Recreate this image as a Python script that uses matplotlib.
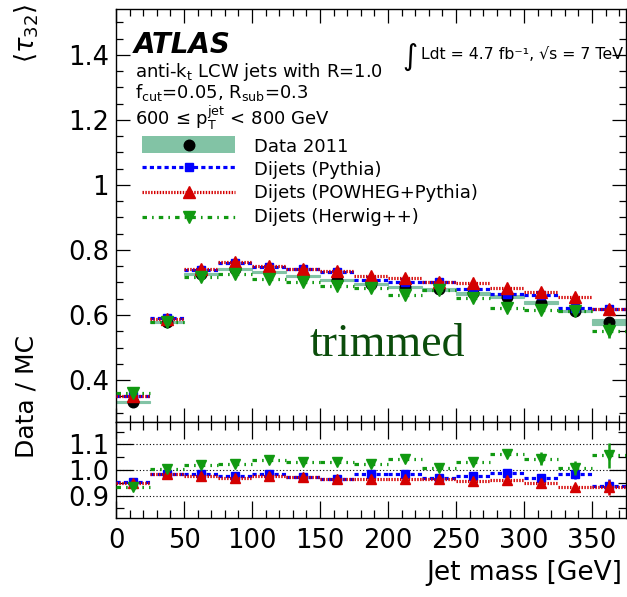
import matplotlib
matplotlib.use("Agg")
import matplotlib.pyplot as plt
from matplotlib.ticker import MultipleLocator, FixedLocator, NullFormatter, FixedFormatter
from matplotlib.patches import Rectangle
import numpy as np

plt.rcParams['font.family'] = ['DejaVu Sans']
plt.rcParams['mathtext.fontset'] = 'dejavusans'

# ---- data: mean tau32 vs jet mass (25 GeV bins) ----
mass_edges = [0, 25, 50, 75, 100, 125, 150, 175, 200, 225, 250, 275, 300, 325, 350, 375]

data_tau32 = [0.333, 0.579, 0.725, 0.741, 0.733, 0.720, 0.708, 0.694, 0.687, 0.679,
              0.667, 0.656, 0.638, 0.612, 0.579]
data_syst = [0.003, 0.003, 0.003, 0.003, 0.003, 0.003, 0.003, 0.003, 0.003, 0.004,
             0.005, 0.004, 0.004, 0.004, 0.009]

pythia_tau32 = [0.352, 0.590, 0.738, 0.760, 0.748, 0.740, 0.731, 0.707, 0.700, 0.701,
                0.681, 0.665, 0.660, 0.621, 0.618]
powheg_tau32 = [0.352, 0.589, 0.743, 0.763, 0.751, 0.742, 0.734, 0.720, 0.713, 0.703,
                0.697, 0.683, 0.671, 0.655, 0.620]
herwig_tau32 = [0.359, 0.577, 0.716, 0.726, 0.710, 0.700, 0.690, 0.683, 0.663, 0.676,
                0.651, 0.622, 0.616, 0.611, 0.552]

pythia_err = [0.002, 0.002, 0.002, 0.002, 0.002, 0.002, 0.002, 0.002, 0.002, 0.002,
              0.003, 0.003, 0.004, 0.006, 0.010]
powheg_err = [0.002, 0.002, 0.002, 0.002, 0.002, 0.002, 0.002, 0.002, 0.002, 0.002,
              0.003, 0.003, 0.004, 0.005, 0.010]
herwig_err = [0.002, 0.002, 0.002, 0.002, 0.002, 0.002, 0.002, 0.002, 0.002, 0.003,
              0.003, 0.004, 0.008, 0.010, 0.022]

# Data / MC ratios
ratio_pythia = [0.953, 0.986, 0.986, 0.976, 0.983, 0.974, 0.966, 0.983, 0.983, 0.970,
                0.976, 0.990, 0.968, 0.985, 0.937]
ratio_powheg = [0.950, 0.985, 0.976, 0.970, 0.975, 0.971, 0.964, 0.964, 0.964, 0.966,
                0.957, 0.960, 0.948, 0.933, 0.932]
ratio_herwig = [0.933, 1.005, 1.018, 1.025, 1.038, 1.033, 1.030, 1.022, 1.042, 1.009,
                1.031, 1.062, 1.045, 1.009, 1.057]

ratio_pythia_err = [0.004, 0.004, 0.004, 0.004, 0.004, 0.004, 0.004, 0.004, 0.004, 0.005,
                    0.006, 0.007, 0.010, 0.020, 0.026]
ratio_powheg_err = [0.004, 0.004, 0.004, 0.004, 0.004, 0.004, 0.004, 0.004, 0.004, 0.005,
                    0.006, 0.007, 0.010, 0.012, 0.030]
ratio_herwig_err = [0.004, 0.004, 0.004, 0.004, 0.004, 0.004, 0.004, 0.004, 0.004, 0.005,
                    0.007, 0.010, 0.025, 0.027, 0.050]

legend_labels = ["Data 2011", "Dijets (Pythia)", "Dijets (POWHEG+Pythia)", "Dijets (Herwig++)"]

edges = np.array(mass_edges, dtype=float)
lo, hi = edges[:-1], edges[1:]
centers = 0.5 * (lo + hi)

BAND = '#82c3a5'
BLUE = '#0000ff'
RED = '#d40000'
GREEN = '#119911'

styles = [
    dict(color=BLUE, marker='s', ms=6.3, ls=(0, (1.3, 1.0)), lw=2.3),
    dict(color=RED, marker='^', ms=8.0, ls=(0, (0.45, 0.45)), lw=2.3),
    dict(color=GREEN, marker='v', ms=8.0, ls=(0, (1.4, 1.6, 0.5, 1.6)), lw=2.3),
]
DATA_MS = 7.6

W, H = 627, 597
fig = plt.figure(figsize=(W / 100, H / 100), dpi=100)
ax = fig.add_axes([116 / W, (H - 422) / H, 510 / W, 413 / H])
axr = fig.add_axes([116 / W, (H - 518) / H, 510 / W, 96 / H])


def draw_series(a, vals, errs, st, z, ms_scale=1.0):
    a.hlines(vals, lo, hi, colors=st['color'], linestyles=[st['ls']], lw=st['lw'], zorder=z)
    a.errorbar(centers, vals, yerr=errs, fmt=st['marker'], color=st['color'],
               ms=st['ms'] * ms_scale, mec=st['color'], elinewidth=1.8, capsize=0,
               zorder=z + 0.5)


# main panel
for x0, x1, v, s in zip(lo, hi, data_tau32, data_syst):
    ax.add_patch(Rectangle((x0, v - s), x1 - x0, 2 * s, facecolor=BAND, edgecolor=BAND,
                           lw=0.8, zorder=1))
ax.plot(centers, data_tau32, 'o', color='black', ms=DATA_MS, zorder=2)
for vals, errs, st, z in zip([pythia_tau32, powheg_tau32, herwig_tau32],
                             [pythia_err, powheg_err, herwig_err], styles, [3, 4, 5]):
    draw_series(ax, vals, errs, st, z)

ax.set_xlim(0, 375)
ax.set_ylim(0.271, 1.541)
ax.yaxis.set_major_locator(FixedLocator([0.4, 0.6, 0.8, 1.0, 1.2, 1.4]))
ax.yaxis.set_major_formatter(FixedFormatter(['0.4', '0.6', '0.8', '1', '1.2', '1.4']))
ax.yaxis.set_minor_locator(MultipleLocator(0.05))
ax.xaxis.set_major_locator(MultipleLocator(50))
ax.xaxis.set_minor_locator(MultipleLocator(10))
ax.xaxis.set_major_formatter(NullFormatter())

# ratio panel
for yv in (0.9, 1.0, 1.1):
    axr.axhline(yv, color='black', ls=(0, (1, 2)), lw=0.8, zorder=0)
for vals, errs, st, z in zip([ratio_pythia, ratio_powheg, ratio_herwig],
                             [ratio_pythia_err, ratio_powheg_err, ratio_herwig_err],
                             styles, [3, 4, 5]):
    draw_series(axr, vals, errs, st, z, ms_scale=0.9)
axr.set_xlim(0, 375)
axr.set_ylim(0.812, 1.188)
axr.yaxis.set_major_locator(FixedLocator([0.9, 1.0, 1.1]))
axr.yaxis.set_major_formatter(FixedFormatter(['0.9', '1.0', '1.1']))
axr.yaxis.set_minor_locator(MultipleLocator(0.05))
axr.xaxis.set_major_locator(MultipleLocator(50))
axr.xaxis.set_minor_locator(MultipleLocator(10))

for a in (ax, axr):
    for sp in a.spines.values():
        sp.set_linewidth(1.0)
    a.tick_params(which='both', direction='in', top=True, right=True, width=0.9,
                  labelsize=18.5, colors='black')
ax.tick_params(which='major', length=10)
ax.tick_params(which='minor', length=5)
ax.tick_params(axis='y', pad=5)
axr.tick_params(which='major', length=12)
axr.tick_params(which='minor', length=6)
axr.tick_params(axis='x', pad=7)
axr.tick_params(axis='y', pad=5)

# axis titles
fig.text(27 / W, 1 - 4 / H, r'$\langle\tau_{32}\rangle$', rotation=90, ha='center', va='top',
         fontsize=18.5)
fig.text(27 / W, 1 - 397 / H, 'Data / MC', rotation=90, ha='center', va='center',
         fontsize=18)
fig.text(622 / W, 1 - 580 / H, 'Jet mass [GeV]', ha='right', va='baseline', fontsize=19)


# annotations in main-axes pixel coordinates
def afx(px):
    return (px - 116) / 510


def afy(py):
    return (422 - py) / 413


ax.text(afx(134), afy(53), 'ATLAS', transform=ax.transAxes, fontsize=20,
        fontweight='bold', fontstyle='italic', va='baseline')
ax.text(afx(135), afy(77), r'anti-k$\mathregular{_t}$ LCW jets with R=1.0',
        transform=ax.transAxes, fontsize=13, va='baseline')
ax.text(afx(135), afy(98), r'f$\mathregular{_{cut}}$=0.05, R$\mathregular{_{sub}}$=0.3',
        transform=ax.transAxes, fontsize=13, va='baseline')
ax.text(afx(135), afy(125), r'600 ≤ p$\mathregular{_T^{jet}}$ < 800 GeV',
        transform=ax.transAxes, fontsize=13, va='baseline')
ax.text(afx(402), afy(65), '∫', transform=ax.transAxes, fontsize=21, va='baseline')
ax.text(afx(421), afy(59), 'Ldt = 4.7 fb⁻¹, √s = 7 TeV',
        transform=ax.transAxes, fontsize=11.3, va='baseline')
ax.text(afx(309), afy(356), 'trimmed', transform=ax.transAxes, fontsize=33,
        family='Liberation Serif', color='#0b4d0b', va='baseline')

# legend
x0, x1 = afx(142), afx(235)
xm = afx(189)
ax.add_patch(Rectangle((x0, afy(153)), x1 - x0, afy(136) - afy(153), transform=ax.transAxes,
                       facecolor=BAND, edgecolor=BAND, lw=0, clip_on=False))
ax.plot([xm], [afy(144.5)], 'o', color='black', ms=DATA_MS, transform=ax.transAxes)
for yl, st in zip([167, 192, 217], styles):
    ax.plot([x0, x1], [afy(yl), afy(yl)], color=st['color'], ls=st['ls'], lw=st['lw'],
            transform=ax.transAxes)
    ax.plot([xm], [afy(yl)], st['marker'], color=st['color'], ms=st['ms'],
            transform=ax.transAxes)
for yb, lab in zip([152, 175, 198, 222], legend_labels):
    ax.text(afx(254), afy(yb), lab, transform=ax.transAxes, fontsize=13, va='baseline')

fig.savefig('out.png', dpi=100)
